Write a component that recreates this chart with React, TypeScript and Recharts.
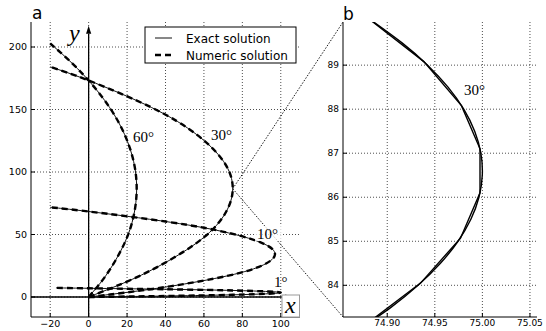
import React from "react";
import {
  LineChart,
  Line,
  XAxis,
  YAxis,
  CartesianGrid,
  ReferenceLine,
} from "recharts";

type Pt = { x: number; y: number };

// panel a axes
const X_DOMAIN_A: [number, number] = [-30, 110];
const Y_DOMAIN_A: [number, number] = [-16, 220];
const X_TICKS_A = [-20, 0, 20, 40, 60, 80, 100];
const Y_TICKS_A = [0, 50, 100, 150, 200];

// panel b axes (zoom around the 30° turning point)
const X_DOMAIN_B: [number, number] = [74.8535, 75.0574];
const Y_DOMAIN_B: [number, number] = [83.28, 89.98];
const X_TICKS_B = [74.9, 74.95, 75.0, 75.05];
const Y_TICKS_B = [84, 85, 86, 87, 88, 89];

// trajectories
const curve60: Pt[] = [
  { x: 0, y: 0 }, { x: 4.75, y: 8.66 }, { x: 10.94, y: 21.65 },
  { x: 18.75, y: 43.3 }, { x: 23.44, y: 64.95 }, { x: 25, y: 86.6 },
  { x: 23.44, y: 108.25 }, { x: 18.75, y: 129.9 }, { x: 10.94, y: 151.55 },
  { x: 0, y: 173.2 }, { x: -11, y: 190.5 }, { x: -20, y: 202.8 },
];
const curve30: Pt[] = [
  { x: 0, y: 0 }, { x: 14.25, y: 8.66 }, { x: 32.81, y: 21.65 },
  { x: 56.25, y: 43.3 }, { x: 70.31, y: 64.95 }, { x: 75, y: 86.6 },
  { x: 70.31, y: 108.25 }, { x: 56.25, y: 129.9 }, { x: 32.81, y: 151.55 },
  { x: 0, y: 173.2 }, { x: -20, y: 184.1 },
];
const curve10: Pt[] = [
  { x: 0, y: 0 }, { x: 18.43, y: 3.42 }, { x: 42.43, y: 8.55 },
  { x: 72.74, y: 17.1 }, { x: 90.92, y: 25.65 }, { x: 96.98, y: 34.2 },
  { x: 90.92, y: 42.75 }, { x: 72.74, y: 51.3 }, { x: 42.43, y: 59.85 },
  { x: 0, y: 68.4 }, { x: -20, y: 71.76 },
];
const curve1: Pt[] = [
  { x: 0, y: 0 }, { x: 18.99, y: 0.35 }, { x: 43.74, y: 0.87 },
  { x: 74.98, y: 1.75 }, { x: 93.72, y: 2.62 }, { x: 99.97, y: 3.49 },
  { x: 93.72, y: 4.36 }, { x: 74.98, y: 5.24 }, { x: 43.74, y: 6.11 },
  { x: 0, y: 6.98 }, { x: -17, y: 7.27 },
];
const curvesA = [curve60, curve30, curve10, curve1];

// panel b: exact curve and the piecewise numeric one
const exactB: Pt[] = [
  { x: 74.8704, y: 83.0 }, { x: 74.9039, y: 83.5 }, { x: 74.9324, y: 84.0 },
  { x: 74.9559, y: 84.5 }, { x: 74.9744, y: 85.0 }, { x: 74.9879, y: 85.5 },
  { x: 74.9964, y: 86.0 }, { x: 74.9999, y: 86.5 }, { x: 74.9984, y: 87.0 },
  { x: 74.9919, y: 87.5 }, { x: 74.9804, y: 88.0 }, { x: 74.9639, y: 88.5 },
  { x: 74.9424, y: 89.0 }, { x: 74.9159, y: 89.5 }, { x: 74.8844, y: 90.0 },
];
const numericB: Pt[] = [
  { x: 74.872, y: 83.02 }, { x: 74.935, y: 84.05 }, { x: 74.977, y: 85.07 },
  { x: 74.9975, y: 86.1 }, { x: 74.9975, y: 87.1 }, { x: 74.978, y: 88.08 },
  { x: 74.9385, y: 89.08 }, { x: 74.879, y: 90.08 },
];

// where panel b sits, in panel a data units (for the dotted connectors)
const ZOOM_AT = { x: 75, y: 86.6 };
const PANEL_B_LEFT = 132.4;

const tickFont = { fill: "#000", fontSize: 9.5, fontFamily: "DejaVu Sans" };
const fmtA = (v: number) => (v < 0 ? "\u2212" + Math.abs(v) : String(v));
const fmtB = (v: number) => v.toFixed(2);
const serif = "Liberation Serif";

const Arrow = (p: any) => {
  const { x1, y1, x2, y2 } = p;
  const a = Math.atan2(y2 - y1, x2 - x1);
  const L = 8;
  const W = 2.6;
  const bx = x2 - L * Math.cos(a);
  const by = y2 - L * Math.sin(a);
  const px = -Math.sin(a) * W;
  const py = Math.cos(a) * W;
  return (
    <g>
      <line x1={x1} y1={y1} x2={bx} y2={by} stroke="#000" strokeWidth={1.3} />
      <polygon
        points={`${x2},${y2} ${bx + px},${by + py} ${bx - px},${by - py}`}
        fill="#000"
      />
    </g>
  );
};

function PanelA() {
  return (
    <LineChart
      width={343}
      height={331}
      margin={{ top: 22, right: 43, bottom: 0, left: 0 }}
      style={{ position: "absolute", left: 0, top: 0 }}
    >
      <CartesianGrid
        stroke="#000"
        strokeWidth={0.7}
        strokeDasharray="1 2"
        verticalValues={X_TICKS_A}
        horizontalValues={Y_TICKS_A}
      />
      <XAxis
        type="number"
        dataKey="x"
        domain={X_DOMAIN_A}
        ticks={X_TICKS_A}
        tickFormatter={fmtA}
        height={14}
        tickSize={-4}
        tickMargin={7}
        tick={tickFont}
        axisLine={{ stroke: "#000" }}
        tickLine={{ stroke: "#000" }}
      />
      <XAxis
        xAxisId="top"
        orientation="top"
        type="number"
        domain={X_DOMAIN_A}
        ticks={X_TICKS_A}
        height={0}
        tick={false}
        tickSize={-4}
        axisLine={{ stroke: "#000" }}
        tickLine={{ stroke: "#000" }}
      />
      <YAxis
        type="number"
        domain={Y_DOMAIN_A}
        ticks={Y_TICKS_A}
        width={31}
        tickSize={-4}
        tickMargin={8}
        tick={tickFont}
        axisLine={{ stroke: "#000" }}
        tickLine={{ stroke: "#000" }}
      />
      <YAxis
        yAxisId="right"
        orientation="right"
        type="number"
        domain={Y_DOMAIN_A}
        ticks={Y_TICKS_A}
        width={0}
        tick={false}
        tickSize={-4}
        axisLine={{ stroke: "#000" }}
        tickLine={{ stroke: "#000" }}
      />
      <ReferenceLine
        segment={[{ x: 0, y: Y_DOMAIN_A[0] }, { x: 0, y: 217 }]}
        ifOverflow="visible"
        shape={Arrow}
      />
      <ReferenceLine
        segment={[{ x: X_DOMAIN_A[0], y: 0 }, { x: 106.5, y: 0 }]}
        ifOverflow="visible"
        shape={Arrow}
      />
      <ReferenceLine
        segment={[ZOOM_AT, { x: PANEL_B_LEFT, y: Y_DOMAIN_A[1] }]}
        ifOverflow="visible"
        stroke="#000"
        strokeWidth={0.9}
        strokeDasharray="1.5 1.5"
      />
      <ReferenceLine
        segment={[ZOOM_AT, { x: PANEL_B_LEFT, y: Y_DOMAIN_A[0] }]}
        ifOverflow="visible"
        stroke="#000"
        strokeWidth={0.9}
        strokeDasharray="1.5 1.5"
      />
      {curvesA.map((c, i) => (
        <Line
          key={"e" + i}
          data={c}
          dataKey="y"
          type="natural"
          stroke="#111"
          strokeWidth={1}
          dot={false}
          isAnimationActive={false}
        />
      ))}
      {curvesA.map((c, i) => (
        <Line
          key={"n" + i}
          data={c}
          dataKey="y"
          type="natural"
          stroke="#000"
          strokeWidth={2.4}
          strokeDasharray="6 4"
          dot={false}
          isAnimationActive={false}
        />
      ))}
    </LineChart>
  );
}

function PanelB() {
  return (
    <LineChart
      width={246}
      height={331}
      margin={{ top: 22, right: 9, bottom: 0, left: 0 }}
      style={{ position: "absolute", left: 300, top: 0 }}
    >
      <CartesianGrid
        stroke="#000"
        strokeWidth={0.7}
        strokeDasharray="1 2"
        verticalValues={X_TICKS_B}
        horizontalValues={Y_TICKS_B}
      />
      <XAxis
        type="number"
        dataKey="x"
        domain={X_DOMAIN_B}
        ticks={X_TICKS_B}
        tickFormatter={fmtB}
        allowDataOverflow
        height={14}
        tickSize={-4}
        tickMargin={7}
        tick={{ ...tickFont, fontSize: 9 }}
        axisLine={{ stroke: "#000" }}
        tickLine={{ stroke: "#000" }}
      />
      <XAxis
        xAxisId="top"
        orientation="top"
        type="number"
        domain={X_DOMAIN_B}
        ticks={X_TICKS_B}
        allowDataOverflow
        height={0}
        tick={false}
        tickSize={-4}
        axisLine={{ stroke: "#000" }}
        tickLine={{ stroke: "#000" }}
      />
      <YAxis
        type="number"
        domain={Y_DOMAIN_B}
        ticks={Y_TICKS_B}
        allowDataOverflow
        width={43}
        tickSize={-4}
        tickMargin={8}
        tick={{ ...tickFont, fontSize: 9 }}
        axisLine={{ stroke: "#000" }}
        tickLine={{ stroke: "#000" }}
      />
      <YAxis
        yAxisId="right"
        orientation="right"
        type="number"
        domain={Y_DOMAIN_B}
        ticks={Y_TICKS_B}
        allowDataOverflow
        width={0}
        tick={false}
        tickSize={-4}
        axisLine={{ stroke: "#000" }}
        tickLine={{ stroke: "#000" }}
      />
      <Line
        data={exactB}
        dataKey="y"
        type="natural"
        stroke="#000"
        strokeWidth={1.4}
        dot={false}
        isAnimationActive={false}
      />
      <Line
        data={numericB}
        dataKey="y"
        type="linear"
        stroke="#000"
        strokeWidth={1.4}
        dot={false}
        isAnimationActive={false}
      />
    </LineChart>
  );
}

function Overlay() {
  const math = { fontFamily: serif, fontSize: 15, fill: "#000" };
  return (
    <svg
      width={546}
      height={331}
      style={{ position: "absolute", left: 0, top: 0, pointerEvents: "none" }}
    >
      <text x={32} y={18.5} fontFamily="DejaVu Sans" fontSize={17}>a</text>
      <text x={343} y={19.5} fontFamily="DejaVu Sans" fontSize={17}>b</text>

      <rect x={145} y={27} width={151} height={36} fill="#fff" stroke="#000" strokeWidth={1} />
      <line x1={155} y1={38} x2={172} y2={38} stroke="#111" strokeWidth={1} />
      <line x1={155} y1={55} x2={173} y2={55} stroke="#000" strokeWidth={2.4} strokeDasharray="6 4" />
      <text x={186} y={42.5} fontFamily="DejaVu Sans" fontSize={12}>Exact solution</text>
      <text x={186} y={59.5} fontFamily="DejaVu Sans" fontSize={12}>Numeric solution</text>

      <text x={133} y={142} {...math}>60°</text>
      <text x={211} y={140} {...math}>30°</text>
      <rect x={255} y={226} width={28} height={15} fill="#fff" fillOpacity={0.75} />
      <text x={257} y={239} {...math}>10°</text>
      <text x={274} y={287} {...math}>1°</text>
      <text x={464} y={95} {...math}>30°</text>

      <text x={69} y={41} fontFamily={serif} fontStyle="italic" fontSize={24}>y</text>
      <rect x={282} y={295} width={17.5} height={22} fill="#fff" stroke="#999" strokeWidth={1} />
      <text x={285} y={313} fontFamily={serif} fontStyle="italic" fontSize={24}>x</text>
    </svg>
  );
}

export default function App() {
  return (
    <div
      style={{
        position: "absolute",
        left: 0,
        top: 0,
        width: 546,
        height: 331,
        background: "#fff",
        overflow: "hidden",
      }}
    >
      <PanelA />
      <PanelB />
      <Overlay />
    </div>
  );
}
